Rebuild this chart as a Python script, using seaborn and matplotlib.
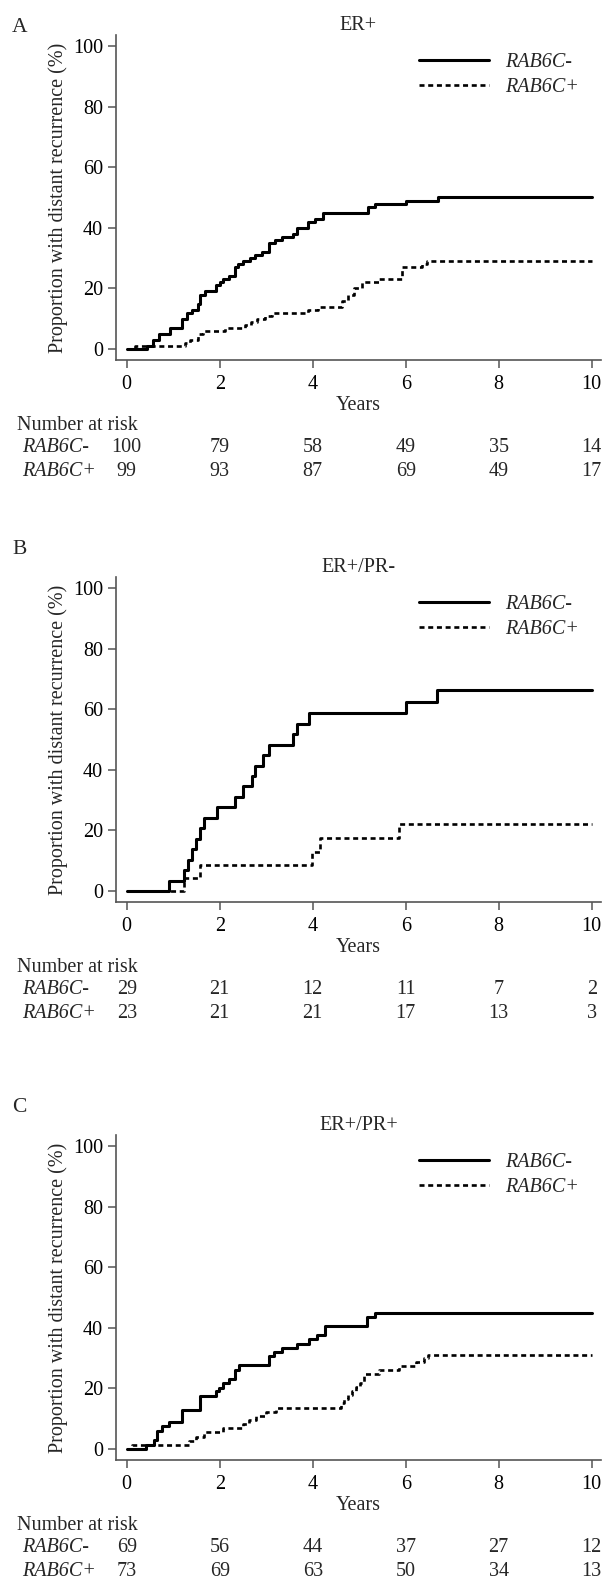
import numpy as np
import matplotlib
matplotlib.use("Agg")
import matplotlib.pyplot as plt
import matplotlib.transforms as mtransforms
import seaborn as sns
import pandas as pd

sns.set_theme(style="ticks")
plt.rcParams["font.family"] = ["Liberation Serif", "DejaVu Serif"]

# Curve data (years, % with distant recurrence)
a_neg_t = [0, 0.43, 0.57, 0.70, 0.93, 1.18, 1.29, 1.40, 1.53, 1.58, 1.68, 1.91, 2.00, 2.07, 2.19,
           2.32, 2.40, 2.49, 2.65, 2.76, 2.90, 3.06, 3.18, 3.33, 3.58, 3.66, 3.90, 4.05, 4.23,
           5.18, 5.34, 6.00, 6.69, 10]
a_neg_p = [0, 1, 3, 5, 7, 10, 12, 13, 15, 18, 19, 21, 22, 23, 24,
           27, 28, 29, 30, 31, 32, 35, 36, 37, 38, 40, 42, 43, 45,
           47, 48, 49, 50, 50]
a_pos_t = [0, 0.18, 1.25, 1.36, 1.54, 1.65, 2.11, 2.54, 2.68, 2.80, 2.97, 3.12, 3.90, 4.12,
           4.64, 4.75, 4.89, 5.05, 5.43, 5.92, 6.34, 6.46, 10]
a_pos_p = [0, 1, 2, 3, 5, 6, 7, 8, 9, 10, 11, 12, 13, 14,
           16, 18, 20, 22, 23, 27, 28, 29, 29]

b_neg_t = [0, 0.91, 1.23, 1.31, 1.41, 1.49, 1.58, 1.66, 1.95, 2.32, 2.49, 2.69, 2.75, 2.93,
           3.07, 3.58, 3.67, 3.92, 6.00, 6.67, 10]
b_neg_p = [0, 3.4, 6.9, 10.3, 13.8, 17.2, 20.7, 24.1, 27.6, 31.0, 34.5, 37.9, 41.4, 44.8,
           48.3, 51.7, 55.2, 58.6, 62.3, 66.4, 66.4]
b_pos_t = [0, 1.24, 1.58, 3.98, 4.15, 5.85, 10]
b_pos_p = [0, 4.3, 8.7, 13.0, 17.4, 22.0, 22.0]

c_neg_t = [0, 0.41, 0.58, 0.66, 0.75, 0.91, 1.18, 1.58, 1.91, 1.99, 2.06, 2.20, 2.32, 2.42,
           3.07, 3.17, 3.34, 3.67, 3.93, 4.10, 4.26, 5.16, 5.35, 10]
c_neg_p = [0, 1.5, 3.0, 6.0, 7.5, 9.0, 13.0, 17.4, 19.0, 20.3, 21.7, 23.2, 26.1, 27.6,
           30.6, 32.0, 33.3, 34.8, 36.2, 37.7, 40.6, 43.5, 45.0, 45.0]
c_pos_t = [0, 0.12, 1.33, 1.50, 1.66, 2.07, 2.49, 2.63, 2.78, 2.99, 3.20, 4.60, 4.68, 4.76,
           4.85, 4.93, 5.02, 5.10, 5.43, 5.85, 6.22, 6.39, 6.47, 10]
c_pos_p = [0, 1.4, 2.7, 4.1, 5.5, 6.8, 8.2, 9.6, 11.0, 12.3, 13.7, 15.1, 16.4, 17.8,
           19.2, 20.5, 21.9, 24.7, 26.0, 27.4, 28.8, 30.2, 31.0, 31.0]

risk_years = [0, 2, 4, 6, 8, 10]
a_risk_neg = [100, 79, 58, 49, 35, 14]
a_risk_pos = [99, 93, 87, 69, 49, 17]
b_risk_neg = [29, 21, 12, 11, 7, 2]
b_risk_pos = [23, 21, 21, 17, 13, 3]
c_risk_neg = [69, 56, 44, 37, 27, 12]
c_risk_pos = [73, 69, 63, 50, 34, 13]

# letter, title, curves, risk rows, y pixel of the 100 tick, y pixel of the letter
panels = [
    ("A", "ER+", a_neg_t, a_neg_p, a_pos_t, a_pos_p, a_risk_neg, a_risk_pos, 46, 27),
    ("B", "ER+/PR-", b_neg_t, b_neg_p, b_pos_t, b_pos_p, b_risk_neg, b_risk_pos, 588, 550),
    ("C", "ER+/PR+", c_neg_t, c_neg_p, c_pos_t, c_pos_p, c_risk_neg, c_risk_pos, 1146, 1108),
]

W, H = 603, 1578
fig = plt.figure(figsize=(W / 100, H / 100), dpi=100)
fs = 14.5
axis_grey = "#555555"

for letter, title, nt, npct, pt, ppct, rneg, rpos, top, letter_y in panels:
    ax_top = top - 11
    ax_bot = top + 314
    ax = fig.add_axes([115.7 / W, 1 - ax_bot / H, (601 - 115.7) / W, (ax_bot - ax_top) / H])

    df = pd.concat([
        pd.DataFrame({"years": nt, "pct": npct, "group": "RAB6C-"}),
        pd.DataFrame({"years": pt, "pct": ppct, "group": "RAB6C+"}),
    ])
    sns.lineplot(data=df[df.group == "RAB6C-"], x="years", y="pct", ax=ax, color="black",
                 lw=2.2, drawstyle="steps-post", label="RAB6C-", estimator=None)
    sns.lineplot(data=df[df.group == "RAB6C+"], x="years", y="pct", ax=ax, color="black",
                 lw=1.9, linestyle=(0, (1.9, 1.4)), drawstyle="steps-post", label="RAB6C+",
                 estimator=None)

    ax.set_xlim(-0.237, 10.2)
    ax.set_ylim(-3.6, 103.6)
    ax.set_xticks(range(0, 11, 2))
    ax.set_yticks(range(0, 101, 20))
    sns.despine(ax=ax)
    for s in ("left", "bottom"):
        ax.spines[s].set_color(axis_grey)
        ax.spines[s].set_linewidth(1.2)
    ax.tick_params(axis="both", colors=axis_grey, labelcolor="black", labelsize=fs,
                   length=6, width=1.1, pad=3)
    ax.tick_params(axis="x", pad=5)
    ax.set_xlabel("Years", fontsize=fs, labelpad=1)
    ax.set_ylabel("Proportion with distant recurrence (%)", fontsize=fs, labelpad=4)
    ax.set_title(title, fontsize=fs, pad=1)

    ax.legend(loc="upper right", bbox_to_anchor=(0.955, 0.945), frameon=False,
              borderpad=0, borderaxespad=0, handlelength=3.5, handletextpad=0.8,
              labelspacing=0.3, prop={"style": "italic", "size": fs})

    fig.text(12 / W, 1 - letter_y / H, letter, fontsize=fs + 1, va="center", ha="left")

    # number at risk table below the axes
    trans = mtransforms.blended_transform_factory(ax.transData, fig.transFigure)
    y_hdr = 1 - (top + 379) / H
    y_neg = 1 - (top + 402) / H
    y_pos = 1 - (top + 425) / H
    fig.text(17 / W, y_hdr, "Number at risk", fontsize=fs, va="center", ha="left")
    fig.text(22 / W, y_neg, "RAB6C-", fontsize=fs, style="italic", va="center", ha="left")
    fig.text(22 / W, y_pos, "RAB6C+", fontsize=fs, style="italic", va="center", ha="left")
    for yr, n1, n2 in zip(risk_years, rneg, rpos):
        ax.text(yr, y_neg, str(n1), transform=trans, fontsize=fs, ha="center", va="center",
                clip_on=False)
        ax.text(yr, y_pos, str(n2), transform=trans, fontsize=fs, ha="center", va="center",
                clip_on=False)

fig.savefig("out.png", dpi=100, facecolor="white")
